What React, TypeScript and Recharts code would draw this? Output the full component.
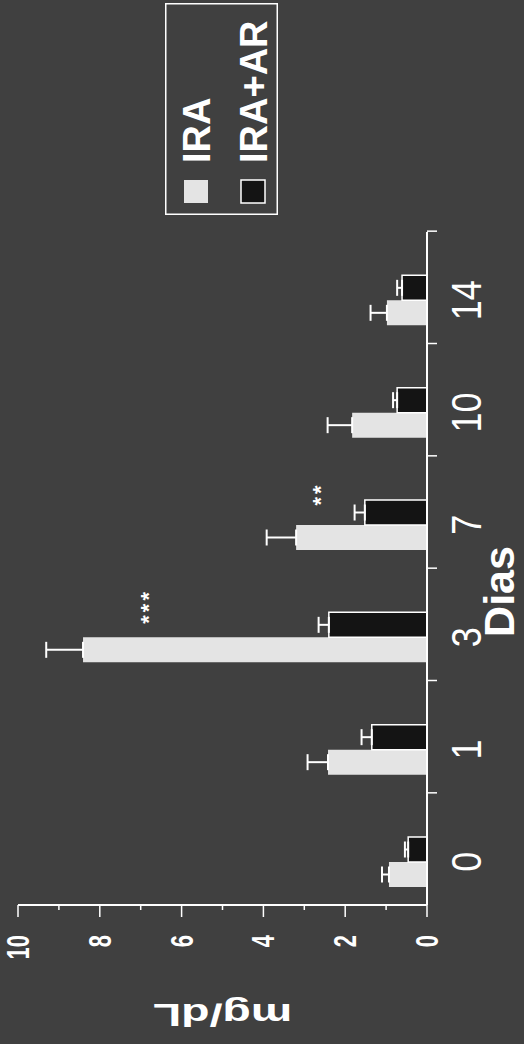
import React from "react";
import { BarChart, Bar, XAxis, YAxis, Legend, ErrorBar, LabelList, Label } from "recharts";

const DAYS = ["0", "1", "3", "7", "10", "14"];
const IRA = [0.93, 2.42, 8.41, 3.2, 1.83, 0.98];
const IRA_ERR = [0.17, 0.5, 0.9, 0.72, 0.6, 0.4];
const IRA_AR = [0.46, 1.35, 2.4, 1.52, 0.73, 0.61];
const IRA_AR_ERR = [0.08, 0.25, 0.25, 0.25, 0.1, 0.12];
const SIG = ["", "", "***", "**", "", ""];
const VALUE_TICKS = [0, 1, 2, 3, 4, 5, 6, 7, 8, 9, 10];

const data = DAYS.map((day, i) => ({
  day,
  ira: IRA[i],
  iraErr: [0, IRA_ERR[i]],
  iraAr: IRA_AR[i],
  iraArErr: [0, IRA_AR_ERR[i]],
  sig: SIG[i],
}));

const BG = "#404040";
const LIGHT = "#e4e4e4";
const DARK = "#141414";
const FONT = "'Liberation Sans', Arial, sans-serif";

function ValueTick({ x, y, payload }: any) {
  const v = payload.value;
  const major = v % 2 === 0;
  return (
    <g>
      <line x1={x} y1={y} x2={x - (major ? 12 : 5)} y2={y} stroke="#fff" strokeWidth={1.5} />
      {major && (
        <text
          transform={`translate(${x - 30},${y}) scale(1,1.45)`}
          textAnchor="end"
          dominantBaseline="central"
          fill="#fff"
          fontSize={22}
          fontWeight="bold"
          fontFamily={FONT}
        >
          {v}
        </text>
      )}
    </g>
  );
}

function DayTick({ x, y, payload }: any) {
  return (
    <g>
      <line x1={x + 69} y1={y} x2={x + 69} y2={y + 10} stroke="#fff" strokeWidth={1.5} />
      <text
        transform={`translate(${x},${y + 54}) scale(1,1.2)`}
        textAnchor="middle"
        fill="#fff"
        fontSize={36}
        fontFamily={FONT}
      >
        {payload.value}
      </text>
    </g>
  );
}

function SigLabel(props: any) {
  const { x, y, width, height, value } = props;
  if (!value) return null;
  return (
    <text
      x={Number(x) + Number(width) * 2 + 6}
      y={Number(y) + Number(height) * 0.19}
      textAnchor="middle"
      dominantBaseline="central"
      fill="#fff"
      fontSize={22}
      fontWeight="bold"
      letterSpacing={3}
      fontFamily={FONT}
    >
      {value}
    </text>
  );
}

function LegendBox({ payload }: any) {
  const items = payload || [];
  return (
    <svg width={212} height={113}>
      <rect x={0.75} y={0.75} width={210.5} height={111.5} fill="none" stroke="#fff" strokeWidth={1.5} />
      {items.map((p: any, i: number) => (
        <g key={p.value} transform={`translate(0,${i * 57})`}>
          <rect
            x={12}
            y={19}
            width={23}
            height={24}
            fill={p.color}
            stroke={i === 1 ? "#fff" : "none"}
            strokeWidth={1.5}
          />
          <text x={52} y={45} fill="#fff" fontSize={38} fontWeight="bold" fontFamily={FONT}>
            {p.value}
          </text>
        </g>
      ))}
    </svg>
  );
}

export default function App() {
  return (
    <div
      style={{
        position: "absolute",
        left: 0,
        top: 0,
        width: 524,
        height: 1044,
        overflow: "hidden",
        background: BG,
      }}
    >
      <div
        style={{
          position: "absolute",
          left: 0,
          top: 0,
          width: 1044,
          height: 524,
          transformOrigin: "0 0",
          transform: "translateY(1044px) rotate(-90deg)",
        }}
      >
        <BarChart
          width={1044}
          height={524}
          data={data}
          margin={{ top: 18, right: 232, bottom: 0, left: 0 }}
          barGap={0}
        >
          <XAxis
            dataKey="day"
            height={97}
            padding={{ left: -13, right: 12 }}
            tickSize={0}
            tickMargin={0}
            tickLine={false}
            interval={0}
            tick={DayTick}
            axisLine={{ stroke: "#fff", strokeWidth: 2 }}
          >
            <Label
              value="Dias"
              position="insideBottom"
              offset={10}
              dx={-23}
              fill="#fff"
              fontSize={43}
              fontWeight="bold"
              fontFamily={FONT}
            />
          </XAxis>
          <YAxis
            type="number"
            width={139}
            domain={[0, 10]}
            ticks={VALUE_TICKS}
            interval={0}
            tickSize={0}
            tickMargin={0}
            tickLine={false}
            tick={ValueTick}
            axisLine={{ stroke: "#fff", strokeWidth: 2 }}
          >
            <Label
              content={({ viewBox }: any) => (
                <text
                  transform={`translate(${viewBox.x + 29},${viewBox.y + viewBox.height / 2}) rotate(-90) scale(1.5,1)`}
                  textAnchor="middle"
                  dominantBaseline="central"
                  fill="#fff"
                  fontSize={31}
                  fontWeight="bold"
                  fontFamily={FONT}
                >
                  mg/dL
                </text>
              )}
            />
          </YAxis>
          <Legend
            layout="horizontal"
            verticalAlign="middle"
            align="center"
            content={LegendBox}
            wrapperStyle={{ left: 829, top: 165, width: 212, height: 113 }}
          />
          <Bar dataKey="ira" name="IRA" fill={LIGHT} barSize={25} isAnimationActive={false}>
            <ErrorBar dataKey="iraErr" direction="y" width={8} stroke="#fff" strokeWidth={2} />
            <LabelList dataKey="sig" content={SigLabel} />
          </Bar>
          <Bar
            dataKey="iraAr"
            name="IRA+AR"
            fill={DARK}
            stroke="#fff"
            strokeWidth={1.5}
            barSize={25}
            isAnimationActive={false}
          >
            <ErrorBar dataKey="iraArErr" direction="y" width={8} stroke="#fff" strokeWidth={2} />
          </Bar>
        </BarChart>
      </div>
    </div>
  );
}
